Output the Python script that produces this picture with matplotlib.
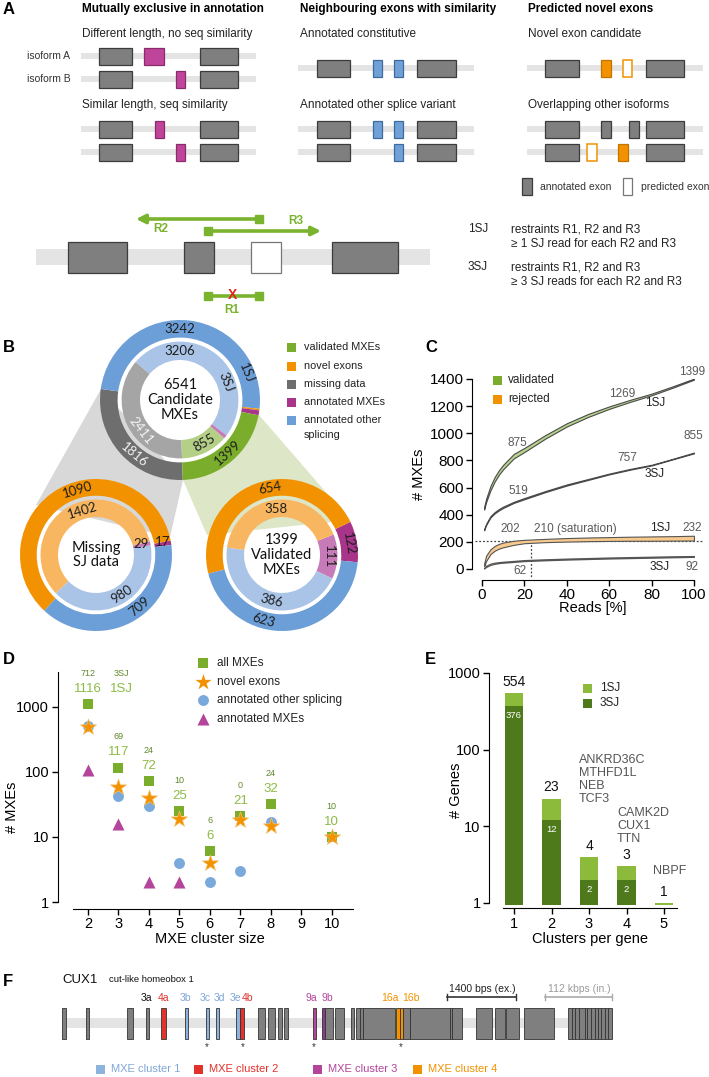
import matplotlib
matplotlib.use('Agg')
import numpy as np
import matplotlib.pyplot as plt
from matplotlib.patches import Rectangle, Polygon
from matplotlib.ticker import NullLocator

W, H = 709, 1077
plt.rcParams['font.family'] = ['Liberation Sans', 'DejaVu Sans']

# colours
GRAY = '#7f7f7f'
TRACK = '#e4e4e4'
MAGENTA = '#bf459a'
BLUE = '#6fa1d8'
ORANGE = '#f39200'
GREEN = '#79ad2b'
RED = '#e3312b'

# ---------------- data ----------------
# A: schematic rows (track span index, row y, exons)
a_track_span = [(81, 256), (298, 474), (527, 703)]
a_rows = [
    (0, 56, [(99, 132, 'g'), (144, 164, 'm'), (200, 238, 'g')]),
    (0, 79, [(99, 132, 'g'), (176, 185, 'm'), (200, 238, 'g')]),
    (0, 129, [(99, 132, 'g'), (155, 164, 'm'), (200, 238, 'g')]),
    (0, 152, [(99, 132, 'g'), (176, 185, 'm'), (200, 238, 'g')]),
    (1, 68, [(317, 350, 'g'), (373, 382, 'b'), (394, 403, 'b'), (417, 456, 'g')]),
    (1, 129, [(317, 350, 'g'), (373, 382, 'b'), (394, 403, 'b'), (417, 456, 'g')]),
    (1, 152, [(317, 350, 'g'), (394, 403, 'b'), (417, 456, 'g')]),
    (2, 68, [(545, 579, 'g'), (601, 611, 'o'), (623, 632, 'w'), (646, 684, 'g')]),
    (2, 129, [(545, 579, 'g'), (601, 611, 'g'), (629, 639, 'g'), (646, 684, 'g')]),
    (2, 152, [(545, 579, 'g'), (587, 597, 'w'), (618, 628, 'o'), (646, 684, 'g')]),
]
sj_track = (36, 430)
sj_exons = [(68, 127, 'g'), (184, 214, 'g'), (251, 281, 'w'), (332, 398, 'g')]

# B: donut counts, outer ring = 1SJ, inner ring = 3SJ
cand_outer = [1816, 3242, 20, 64, 1399]   # missing, other splicing, novel, annotated MXEs, validated
cand_inner = [2411, 3206, 0, 69, 855]
missing_outer = [17, 1090, 709]           # annotated MXEs, novel, other splicing
missing_inner = [29, 1402, 980]
valid_outer = [122, 654, 623]
valid_inner = [111, 358, 386]

# C: saturation curves (band low / high)
reads_pct = [1, 2, 4, 6, 8, 10, 15, 20, 30, 40, 50, 60, 70, 80, 90, 100]
val1_lo = [438, 495, 580, 645, 695, 735, 815, 862, 962, 1050, 1120, 1180, 1232, 1280, 1336, 1395]
val1_hi = [458, 520, 612, 678, 728, 768, 848, 892, 988, 1074, 1142, 1198, 1247, 1292, 1346, 1403]
val3_lo = [285, 325, 380, 410, 432, 450, 487, 514, 567, 615, 656, 697, 732, 763, 808, 852]
val3_hi = [295, 335, 390, 420, 442, 460, 495, 523, 575, 623, 663, 703, 738, 768, 812, 858]
rej1_lo = [20, 60, 110, 135, 150, 160, 178, 190, 198, 202, 205, 207, 208, 208, 209, 210]
rej1_hi = [40, 100, 145, 170, 185, 195, 208, 215, 222, 228, 232, 235, 238, 240, 242, 245]
rej3_lo = [3, 15, 30, 38, 43, 46, 52, 58, 64, 69, 73, 77, 80, 83, 86, 89]
rej3_hi = [8, 25, 40, 47, 51, 54, 60, 66, 72, 77, 81, 85, 88, 91, 94, 96]

# D: MXE cluster sizes
cluster_size = [2, 3, 4, 5, 6, 7, 8, 10]
all_1sj = [1116, 117, 72, 25, 6, 21, 32, 10]
all_3sj = [712, 69, 24, 10, 6, 0, 24, 10]
novel_cnt = [500, 58, 40, 19, 4, 18, 15, 10]
other_size = [2, 3, 4, 5, 6, 7, 8]
other_cnt = [510, 43, 30, 4, 2, 3, 17]
annot_size = [2, 3, 4, 5]
annot_cnt = [106, 16, 2, 2]

# E: clusters per gene
clusters_per_gene = [1, 2, 3, 4, 5]
genes_1sj = [554, 23, 4, 3, 1]
genes_3sj = [376, 12, 2, 2, 0]

# F: CUX1 exon layout (x0, x1, MXE cluster or 0)
f_exons = [(61.5, 66, 0), (86, 89, 0), (127, 133, 0), (146, 149, 0), (161, 166, 2),
           (185, 188, 1), (206, 209, 1), (216, 219, 1), (236, 240, 1), (240, 244, 2),
           (258, 265, 0), (268, 275, 0), (278, 282, 0), (284, 288, 0), (313, 316, 3),
           (322, 325, 5), (325, 333, 0), (335, 344, 0), (351, 354, 0), (356, 360, 0),
           (360, 363, 0), (363, 395, 0), (396, 399.5, 4), (399.5, 403, 4), (403, 410, 0),
           (410, 450, 0), (450, 452, 0), (452, 462, 0), (476, 492, 0), (495, 505, 0),
           (506, 519, 0), (524, 554, 0), (568, 572, 0), (572, 575, 0), (575, 579, 0),
           (579, 585, 0), (585, 587, 0), (587, 591, 0), (591, 595, 0), (595, 598, 0),
           (598, 601, 0), (601, 605, 0), (605, 608, 0), (608, 612, 0)]
f_labels = [('3a', 146, 0), ('4a', 163, 2), ('3b', 185, 1), ('3c', 205, 1), ('3d', 219, 1),
            ('3e', 235, 1), ('4b', 248, 2), ('9a', 311, 3), ('9b', 327, 3),
            ('16a', 390, 4), ('16b', 411, 4)]
f_stars = [207, 243, 314, 401]
f_legend = ['MXE cluster 1', 'MXE cluster 2', 'MXE cluster 3', 'MXE cluster 4']

# ---------------- figure ----------------
fig = plt.figure(figsize=(W / 100, H / 100), dpi=100)
ax0 = fig.add_axes([0, 0, 1, 1])
ax0.set_xlim(0, W)
ax0.set_ylim(H, 0)
ax0.axis('off')


def px_axes(x0, y0, x1, y1):
    return fig.add_axes([x0 / W, 1 - y1 / H, (x1 - x0) / W, (y1 - y0) / H], facecolor='none')


def txt(x, y, s, size=8.5, ha='left', **kw):
    ax0.text(x, y, s, fontsize=size, ha=ha, va='center', **kw)


kind_style = {'g': (GRAY, '#3c3c3c'), 'm': (MAGENTA, '#8a2c6c'), 'b': (BLUE, '#3e6a9c'),
              'o': (ORANGE, '#c27400'), 'w': ('white', ORANGE)}


def draw_track(x0, x1, yc, h):
    ax0.add_patch(Rectangle((x0, yc - h / 2), x1 - x0, h, fc=TRACK, ec='none', zorder=2))


def draw_exon(x0, x1, yc, h, fc, ec, lw=0.9):
    ax0.add_patch(Rectangle((x0, yc - h / 2), x1 - x0, h, fc=fc, ec=ec, lw=lw, zorder=3))


# ---------------- panel A ----------------
txt(3, 10, 'A', size=12, weight='bold')
for x, s in zip([82, 300, 528], ['Mutually exclusive in annotation',
                                 'Neighbouring exons with similarity', 'Predicted novel exons']):
    txt(x, 9, s, weight='bold')
for x, y, s in [(82, 34, 'Different length, no seq similarity'), (300, 34, 'Annotated constitutive'),
                (528, 34, 'Novel exon candidate'), (82, 105, 'Similar length, seq similarity'),
                (300, 105, 'Annotated other splice variant'), (528, 105, 'Overlapping other isoforms')]:
    txt(x, y, s, color='#222222')
txt(27, 56, 'isoform A', size=7.5, color='#333333')
txt(27, 79, 'isoform B', size=7.5, color='#333333')

for span, y, exons in a_rows:
    x0, x1 = a_track_span[span]
    draw_track(x0, x1, y, 6)
    for e0, e1, k in exons:
        fc, ec = kind_style[k]
        draw_exon(e0, e1, y, 17, fc, ec, lw=1.1 if k == 'w' else 0.9)

draw_exon(522, 532, 186, 17, GRAY, '#3c3c3c')
txt(540, 187, 'annotated exon', size=7.5, color='#333333')
draw_exon(623, 632, 186, 17, 'white', '#777777')
txt(641, 187, 'predicted exon', size=7.5, color='#333333')

# splice junction restraints
draw_track(sj_track[0], sj_track[1], 257, 16)
for e0, e1, k in sj_exons:
    draw_exon(e0, e1, 257, 31, GRAY if k == 'g' else 'white', '#3c3c3c' if k == 'g' else '#777777')

LG = '#7ab32e'
for xs, xe, y in [(259, 136, 219), (208, 321, 231)]:
    ax0.annotate('', xy=(xe, y), xytext=(xs, y),
                 arrowprops=dict(arrowstyle='-|>', color=LG, lw=2.6, mutation_scale=13,
                                 shrinkA=0, shrinkB=0))
    ax0.plot([xs], [y], marker='s', ms=5.5, color=LG)
ax0.plot([208, 259], [296, 296], color=LG, lw=2.6)
ax0.plot([208, 259], [296, 296], ls='none', marker='s', ms=5.5, color=LG)
txt(232, 295, 'X', size=10, ha='center', weight='bold', color='#e0251b')
txt(161, 229, 'R2', size=8.5, ha='center', color=LG, weight='bold')
txt(296, 221, 'R3', size=8.5, ha='center', color=LG, weight='bold')
txt(232, 310, 'R1', size=8.5, ha='center', color=LG, weight='bold')

for y0, tag, rule in [(229, '1SJ', '\u2265 1 SJ read for each R2 and R3'),
                      (267, '3SJ', '\u2265 3 SJ reads for each R2 and R3')]:
    txt(468, y0, tag, size=8.5, color='#222222')
    txt(511, y0, 'restraints R1, R2 and R3', size=8.5, color='#222222')
    txt(511, y0 + 15, rule, size=8.5, color='#222222')

# ---------------- panel B ----------------
txt(3, 347, 'B', size=12, weight='bold')
ax0.add_patch(Polygon([(101, 389), (183, 480), (170, 537), (36, 505)], closed=True,
                      fc='#d8d8d8', ec='none', zorder=1))
ax0.add_patch(Polygon([(183, 480), (259, 415), (350, 520), (207, 535)], closed=True,
                      fc='#dde6c6', ec='none', zorder=1))

c_out = ['#6e6e6e', '#6c9fd7', ORANGE, '#a8358a', GREEN]
c_in = ['#a5a5a5', '#a9c4e6', '#f8b660', '#c67ab7', '#b4cf86']
c3_out = ['#a8358a', ORANGE, '#6c9fd7']
c3_in = ['#c67ab7', '#f8b660', '#a9c4e6']


def donut(cx, cy, R, outer, inner, col_o, col_i, st_o, st_i, ccw):
    ax = px_axes(cx - R, cy - R, cx + R, cy + R)
    ax.pie(outer, colors=col_o, radius=1.0, startangle=st_o, counterclock=ccw,
           wedgeprops=dict(width=0.22, linewidth=0))
    ax.pie(inner, colors=col_i, radius=0.73, startangle=st_i, counterclock=ccw,
           wedgeprops=dict(width=0.23, linewidth=0))
    ax.set_xlim(-1, 1)
    ax.set_ylim(-1, 1)
    return ax


def ring_text(ax, s, ang, r, rot, color='#1e1e1e', size=9.5):
    a = np.deg2rad(ang)
    ax.text(r * np.cos(a), r * np.sin(a), s, rotation=rot, rotation_mode='anchor',
            ha='center', va='center', fontsize=size, color=color, family=['Lato', 'DejaVu Sans'])


axB1 = donut(180, 400, 80, cand_outer, cand_inner, c_out, c_in, 272, 272, False)
ring_text(axB1, '3242', 90, 0.89, 0)
ring_text(axB1, '3206', 90, 0.615, 0)
ring_text(axB1, '1SJ', 22, 0.89, -68)
ring_text(axB1, '3SJ', 22, 0.615, -68)
ring_text(axB1, '1816', 230, 0.89, -40, color='#f0f0f0')
ring_text(axB1, '2411', 218, 0.615, -52, color='#f4f4f4')
ring_text(axB1, '855', -60, 0.615, 30)
ring_text(axB1, '1399', -48, 0.89, 42)
axB1.text(0, 0, '6541\nCandidate\nMXEs', ha='center', va='center', fontsize=10.5,
          linespacing=1.05, family=['Lato', 'DejaVu Sans'], color='#111111')

axB2 = donut(96, 555, 76, missing_outer, missing_inner, c3_out, c3_in, 7.6, 10, True)
ring_text(axB2, '1090', 106, 0.89, 16)
ring_text(axB2, '1402', 107, 0.615, 17)
ring_text(axB2, '29', 13, 0.615, 0)
ring_text(axB2, '17', 11, 0.89, 0)
ring_text(axB2, '980', -57, 0.615, 33)
ring_text(axB2, '709', -50, 0.89, 40)
axB2.text(0, 0, 'Missing\nSJ data', ha='center', va='center', fontsize=10.5,
          linespacing=1.05, family=['Lato', 'DejaVu Sans'], color='#111111')

axB3 = donut(282, 555, 76, valid_outer, valid_inner, c3_out, c3_in, -5.5, -25, True)
ring_text(axB3, '654', 100, 0.89, 10)
ring_text(axB3, '358', 97, 0.615, 0)
ring_text(axB3, '111', -2, 0.615, -90)
ring_text(axB3, '122', 10, 0.89, -80)
ring_text(axB3, '386', -103, 0.615, -13)
ring_text(axB3, '623', -106, 0.89, -16)
axB3.text(0, 0, '1399\nValidated\nMXEs', ha='center', va='center', fontsize=10.5,
          linespacing=1.05, family=['Lato', 'DejaVu Sans'], color='#111111')

for y, col, lab in [(347, GREEN, 'validated MXEs'), (366, ORANGE, 'novel exons'),
                    (384, '#6e6e6e', 'missing data'), (402, '#a8358a', 'annotated MXEs'),
                    (420, '#6c9fd7', 'annotated other')]:
    ax0.add_patch(Rectangle((287, y - 4.5), 9, 9, fc=col, ec='none'))
    txt(304, y, lab, size=7.8, color='#222222')
txt(304, 435, 'splicing', size=7.8, color='#222222')

# ---------------- panel C ----------------
txt(425, 347, 'C', size=12, weight='bold')
axC = px_axes(482, 379, 694, 569)
axC.fill_between(reads_pct, val1_lo, val1_hi, fc='#b8d38e', ec='#4a4a4a', lw=0.8, zorder=3)
axC.fill_between(reads_pct, val3_lo, val3_hi, fc='#b8d38e', ec='#4a4a4a', lw=0.8, zorder=3)
axC.fill_between(reads_pct, rej1_lo, rej1_hi, fc='#f8c98c', ec='#555555', lw=0.8, zorder=3)
axC.fill_between(reads_pct, rej3_lo, rej3_hi, fc='#f8c98c', ec='#555555', lw=0.8, zorder=3)
axC.set_xlim(0, 100)
axC.set_ylim(0, 1400)
axC.plot([-3.3, 104], [205, 205], ls=(0, (1.5, 1.5)), color='#444444', lw=0.9, clip_on=False, zorder=2)
axC.plot([23, 23], [205, -59], ls=(0, (1.5, 1.5)), color='#444444', lw=0.9, clip_on=False, zorder=2)
for s in ['top', 'right']:
    axC.spines[s].set_visible(False)
axC.spines['left'].set_position(('outward', 7))
axC.spines['bottom'].set_position(('outward', 8))
axC.set_xticks(range(0, 101, 20))
axC.set_yticks(range(0, 1401, 200))
axC.tick_params(labelsize=11, length=4, width=1, pad=2)
axC.set_xlabel('Reads [%]', fontsize=10.5)
axC.xaxis.set_label_coords(0.524, -0.168)
axC.set_ylabel('# MXEs', fontsize=10.5)
axC.yaxis.set_label_coords(-0.262, 0.5)
gray_lab = '#5a5a5a'
for x, y, s, col in [(16.5, 930, '875', gray_lab), (66, 1292, '1269', gray_lab), (99, 1452, '1399', gray_lab),
                     (81.6, 1223, '1SJ', '#222222'), (99.5, 980, '855', gray_lab),
                     (68.4, 818, '757', gray_lab), (81.6, 700, '3SJ', '#222222'),
                     (17, 575, '519', gray_lab), (13.2, 295, '202', gray_lab),
                     (84, 302, '1SJ', '#222222'), (99, 302, '232', gray_lab),
                     (84, 15, '3SJ', '#222222'), (99, 15, '92', gray_lab), (18, -15, '62', gray_lab)]:
    axC.text(x, y, s, ha='center', va='center', fontsize=8.5, color=col, zorder=5)
axC.text(24.5, 295, '210 (saturation)', ha='left', va='center', fontsize=8.5, color=gray_lab)
for y, col, lab in [(380, GREEN, 'validated'), (399, ORANGE, 'rejected')]:
    ax0.add_patch(Rectangle((493, y - 4.5), 9, 9, fc=col, ec='none'))
    txt(508, y, lab, size=8.5, color='#222222')

# ---------------- panel D ----------------
txt(3, 659, 'D', size=12, weight='bold')
axD = px_axes(57.5, 672, 356, 902)
axD.set_yscale('log')
axD.set_ylim(1, 3450)
axD.set_xlim(1, 10.8)
axD.scatter(cluster_size, all_1sj, marker='s', s=60, c=GREEN, lw=0, zorder=3)
axD.scatter(annot_size, annot_cnt, marker='^', s=75, c='#b5449b', lw=0, zorder=3)
axD.scatter(other_size, other_cnt, marker='o', s=62, c='#7aa9dc', lw=0, zorder=4)
axD.scatter(cluster_size, novel_cnt, marker='*', s=150, c=ORANGE, edgecolors='#f7c06a', lw=0.5, zorder=5)
for x, a1, a3 in zip(cluster_size, all_1sj, all_3sj):
    axD.annotate(str(a1), (x, a1), xytext=(0, 11), textcoords='offset points', ha='center',
                 va='center', fontsize=9.5, color='#8dbb45')
    axD.annotate(str(a3), (x, a1), xytext=(0, 22), textcoords='offset points', ha='center',
                 va='center', fontsize=6.5, color='#5f8a2c')
axD.annotate('1SJ', (3, all_1sj[0]), xytext=(2, 11), textcoords='offset points', ha='center',
             va='center', fontsize=9.5, color='#8dbb45')
axD.annotate('3SJ', (3, all_1sj[0]), xytext=(2, 22), textcoords='offset points', ha='center',
             va='center', fontsize=6.5, color='#5f8a2c')
for s in ['top', 'right']:
    axD.spines[s].set_visible(False)
axD.spines['bottom'].set_position(('outward', 5))
axD.spines['bottom'].set_bounds(1.5, 10.7)
axD.set_xticks([2, 3, 4, 5, 6, 7, 8, 9, 10])
axD.set_yticks([1, 10, 100, 1000])
axD.set_yticklabels(['1', '10', '100', '1000'])
axD.yaxis.set_minor_locator(NullLocator())
axD.tick_params(labelsize=10.5, length=4, width=1, pad=2)
axD.set_xlabel('MXE cluster size', fontsize=10.5)
axD.xaxis.set_label_coords(0.511, -0.13)
axD.set_ylabel('# MXEs', fontsize=10.5)
axD.yaxis.set_label_coords(-0.13, 0.413)
ax0.scatter([203], [663], marker='s', s=60, c=GREEN, lw=0)
ax0.scatter([203], [682], marker='*', s=150, c=ORANGE, lw=0)
ax0.scatter([203], [700], marker='o', s=62, c='#7aa9dc', lw=0)
ax0.scatter([203], [719], marker='^', s=75, c='#b5449b', lw=0)
for y, lab in [(663, 'all MXEs'), (682, 'novel exons'), (700, 'annotated other splicing'),
               (719, 'annotated MXEs')]:
    txt(217, y, lab, size=8.5, color='#222222')

# ---------------- panel E ----------------
txt(425, 660, 'E', size=12, weight='bold')
axE = px_axes(489, 673, 679, 905.4)
axE.set_yscale('log')
axE.set_ylim(0.93, 1000)
axE.set_xlim(0.333, 5.4)
LIGHTG = '#8cbb3c'
DARKG = '#4e7a1c'
axE.bar(clusters_per_gene, genes_1sj, width=0.5, color=LIGHTG)
dark_x = [x for x, v in zip(clusters_per_gene, genes_3sj) if v > 0]
dark_v = [v for v in genes_3sj if v > 0]
axE.bar(dark_x, dark_v, width=0.5, color=DARKG)
for x, v in zip(clusters_per_gene, genes_1sj):
    axE.annotate(str(v), (x, v), xytext=(0, 8), textcoords='offset points', ha='center',
                 va='center', fontsize=10, color='#111111')
for x, v in zip(dark_x, dark_v):
    axE.annotate(str(v), (x, v), xytext=(0, -7), textcoords='offset points', ha='center',
                 va='center', fontsize=6.8, color='white')
for s in ['top', 'right']:
    axE.spines[s].set_visible(False)
axE.spines['left'].set_bounds(1, 1000)
axE.spines['bottom'].set_position(('outward', 2))
axE.spines['bottom'].set_bounds(0.7, 5.35)
axE.set_xticks(clusters_per_gene)
axE.set_yticks([1, 10, 100, 1000])
axE.set_yticklabels(['1', '10', '100', '1000'])
axE.yaxis.set_minor_locator(NullLocator())
axE.tick_params(labelsize=10.5, length=4, width=1, pad=2)
axE.set_xlabel('Clusters per gene', fontsize=10.5)
axE.xaxis.set_label_coords(0.53, -0.115)
axE.set_ylabel('# Genes', fontsize=10.5)
axE.yaxis.set_label_coords(-0.137, 0.497)
ax0.text(579, 754, 'ANKRD36C\nMTHFD1L\nNEB\nTCF3', fontsize=9, color='#555555', va='top',
         linespacing=1.12)
ax0.text(617, 807, 'CAMK2D\nCUX1\nTTN', fontsize=9, color='#555555', va='top', linespacing=1.12)
txt(653, 871, 'NBPF', size=9, color='#555555')
for y, col, lab in [(688, LIGHTG, '1SJ'), (703, DARKG, '3SJ')]:
    ax0.add_patch(Rectangle((583, y - 4.5), 9, 9, fc=col, ec='none'))
    txt(600, y, lab, size=8.5, color='#222222')

# ---------------- panel F ----------------
txt(3, 982, 'F', size=12, weight='bold')
txt(62, 980, 'CUX1', size=9.5, color='#111111')
txt(109, 980, 'cut-like homeobox 1', size=6.8, color='#111111')
f_fill = {0: GRAY, 1: '#8db3df', 2: RED, 3: '#b5449b', 4: ORANGE, 5: '#8c3a8a'}
f_text = {0: '#111111', 1: '#7ea7d6', 2: RED, 3: '#b5449b', 4: ORANGE}
draw_track(63, 568, 1023, 10)
for x0, x1, k in f_exons:
    draw_exon(x0, x1, 1023.5, 31, f_fill[k], '#333333', lw=0.6)
for s, x, k in f_labels:
    txt(x, 998, s, size=7.5, ha='center', color=f_text[k])
for x in f_stars:
    txt(x, 1047, '*', size=7, ha='center', color='#333333')
txt(482, 989, '1400 bps (ex.)', size=7.5, ha='center', color='#222222')
ax0.plot([447, 516], [997, 997], color='#333333', lw=1.2)
ax0.plot([447, 447, np.nan, 516, 516], [994, 1000, np.nan, 994, 1000], color='#333333', lw=1)
txt(579, 989, '112 kbps (in.)', size=7.5, ha='center', color='#9a9a9a')
ax0.plot([545, 612], [997, 997], color='#aaaaaa', lw=1.2)
ax0.plot([545, 545, np.nan, 612, 612], [994, 1000, np.nan, 994, 1000], color='#aaaaaa', lw=1)
for x, k, lab in zip([96, 194, 313, 413], [1, 2, 3, 4], f_legend):
    ax0.add_patch(Rectangle((x, 1064.5), 9, 9, fc=f_fill[k], ec='none'))
    txt(x + 15, 1069, lab, size=8, color=f_text[k])

fig.savefig('out.png', dpi=100)
